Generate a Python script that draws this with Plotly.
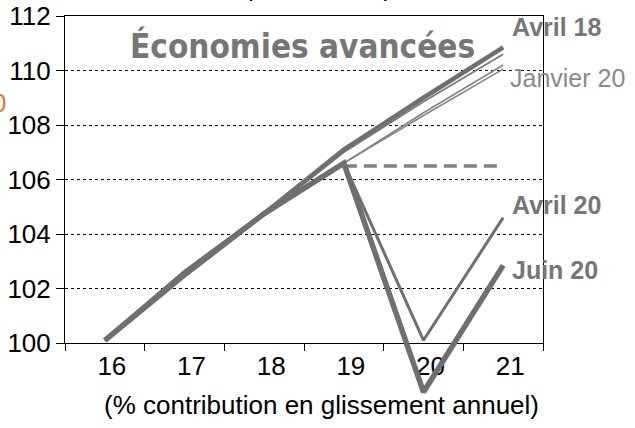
import plotly.graph_objects as go

# ---------------- data ----------------
years = ["16", "17", "18", "19", "20", "21"]
avril_18 = [100.1, 102.6, 104.75, 107.1, 109.0, 110.85]
octobre_18 = [100.1, 102.55, 104.7, 107.0, 108.85, 110.6]
octobre_19 = [100.1, 102.5, 104.75, 106.6, 108.45, 110.2]
janvier_20 = [100.1, 102.5, 104.75, 106.6, 108.35, 110.05]
avril_20 = [100.1, 102.5, 104.75, 106.6, 100.1, 104.6]
juin_20 = [100.1, 102.5, 104.75, 106.6, 98.2, 102.85]
niveau_2019 = [None, None, None, 106.5, 106.5, 106.5]
y_ticks = [100, 102, 104, 106, 108, 110, 112]

# ---------------- layout geometry ----------------
W, H = 635, 428
ML, MR, MT, MB = 65, 92, 16, 10
PW = W - ML - MR
PH = H - MT - MB
Y0_PIX = 343  # pixel of value 100
y_dom0 = (H - MB - Y0_PIX) / PH
px_per_unit = (Y0_PIX - MT) / 12.0
y2_min = 100 - (H - MB - Y0_PIX) / px_per_unit


def px(x):
    return (x - ML) / PW


def py(y):
    return (H - MB - y) / PH


LINE = "#6f6f6f"
TXT = "#767676"

fig = go.Figure()


def add(vals, width, color=LINE, dash="solid", name="", yaxis="y"):
    fig.add_trace(go.Scatter(
        x=years, y=vals, mode="lines", name=name,
        line=dict(color=color, width=width, dash=dash),
        xaxis="x", yaxis=yaxis, hoverinfo="skip", connectgaps=False,
    ))


add(octobre_19, 1.6, "#858585", name="Octobre 19")
add(janvier_20, 1.6, "#858585", name="Janvier 20")
add(octobre_18, 1.8, "#7a7a7a", name="Octobre 18")
add(avril_18, 4.5, name="Avril 18")
add(niveau_2019, 3.5, "#7f7f7f", dash="13px,7px", name="Niveau 2019")
add(avril_20, 3, name="Avril 20")
# the June line dips below the axis floor: drawn on a taller overlay axis with the same scale
add(juin_20, 5.5, name="Juin 20", yaxis="y2")

fig.update_layout(
    width=W, height=H,
    margin=dict(l=ML, r=MR, t=MT, b=MB, autoexpand=False),
    paper_bgcolor="white", plot_bgcolor="rgba(0,0,0,0)",
    showlegend=False,
    font=dict(family="Liberation Sans, Arial, sans-serif", color="black", size=26),
    xaxis=dict(
        type="category", categoryorder="array", categoryarray=years,
        range=[-0.5, 5.5], anchor="y", domain=[0, 1],
        tickson="boundaries", ticks="outside", ticklen=7, tickcolor="black",
        showline=True, linecolor="black", linewidth=1, mirror=True,
        showgrid=False, tickfont=dict(size=26), ticklabelshift=7,
        automargin=False,
    ),
    yaxis=dict(
        range=[100, 112], domain=[y_dom0, 1], anchor="x",
        tickvals=y_ticks, ticks="outside", ticklen=8, tickcolor="black",
        showline=True, linecolor="black", linewidth=1, mirror=True,
        showgrid=True, gridcolor="black", gridwidth=1, griddash="dot",
        zeroline=False, tickfont=dict(size=26), automargin=False,
    ),
    yaxis2=dict(
        range=[y2_min, 112], domain=[0, 1], anchor="x",
        visible=False, showgrid=False, zeroline=False, fixedrange=True,
    ),
)

ann = [
    dict(text="<b>Économies avancées</b>", x=px(302), y=py(46),
         font=dict(size=33, color=TXT,
                   family="DejaVu Sans Condensed, Liberation Sans, sans-serif"),
         xanchor="center", yanchor="middle"),
    dict(text="<b>Avril 18</b>", x=px(510), y=py(27), font=dict(size=25, color=TXT),
         xanchor="left", yanchor="middle"),
    dict(text="Janvier 20", x=px(508), y=py(78), font=dict(size=25, color="#8a8a8a"),
         xanchor="left", yanchor="middle"),
    dict(text="<b>Avril 20</b>", x=px(510), y=py(205), font=dict(size=25, color=TXT),
         xanchor="left", yanchor="middle"),
    dict(text="<b>Juin 20</b>", x=px(510), y=py(270), font=dict(size=25, color=TXT),
         xanchor="left", yanchor="middle"),
    dict(text="(% contribution en glissement annuel)", x=px(321), y=py(405),
         font=dict(size=26, color="black"), xanchor="center", yanchor="middle"),
    dict(text="(2016 = 100)", x=px(318), y=py(-13), font=dict(size=26, color="black"),
         xanchor="center", yanchor="middle"),
    dict(text="0", x=px(8), y=py(103), font=dict(size=26, color="#e8731a"),
         xanchor="right", yanchor="middle"),
]
for a in ann:
    a.update(xref="paper", yref="paper", showarrow=False)
fig.update_layout(annotations=ann)

fig.write_html(
    "out.html",
    config={"displayModeBar": False, "staticPlot": True},
    post_script="document.body.style.margin='0';document.body.style.padding='0';",
)
